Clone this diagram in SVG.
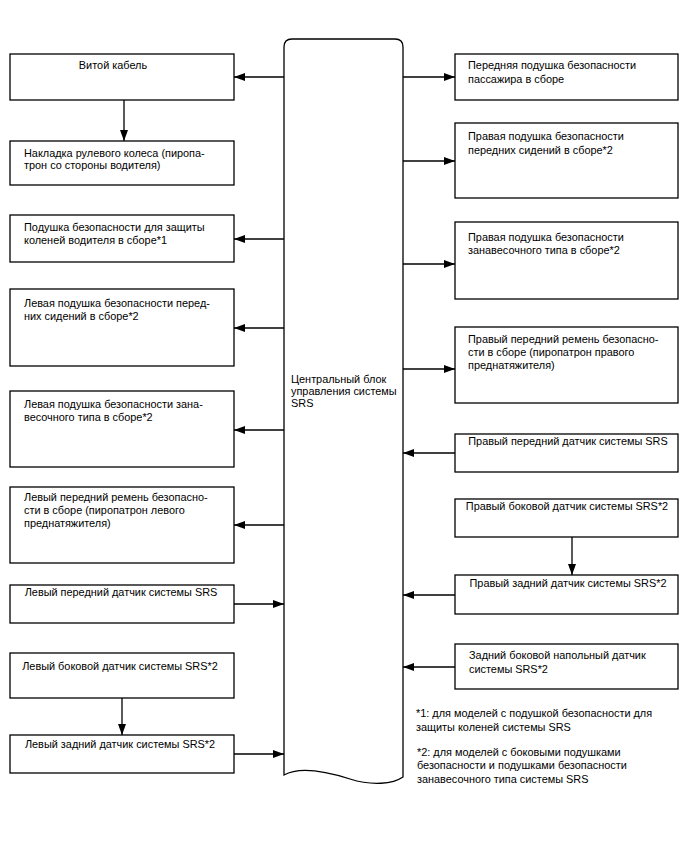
<svg xmlns="http://www.w3.org/2000/svg" width="688" height="852" viewBox="0 0 688 852">
<style>
.box{fill:#fff;stroke:#000;stroke-width:1.3}
.ln{fill:none;stroke:#000;stroke-width:1.3}
text{font-family:"Liberation Sans",Arial,sans-serif;font-size:10.9px;fill:#000}
.c{text-anchor:middle}
</style>
<defs>
<marker id="ah" markerUnits="userSpaceOnUse" markerWidth="12" markerHeight="10" refX="11" refY="4" orient="auto">
<path d="M0,0 L11,4 L0,8 z" fill="#000"/>
</marker>
</defs>
<rect width="688" height="852" fill="#fff"/>

<g id="connectors">
<line class="ln" x1="284" y1="77" x2="234" y2="77" marker-end="url(#ah)"/>
<line class="ln" x1="124" y1="100" x2="124" y2="141" marker-end="url(#ah)"/>
<line class="ln" x1="284" y1="239" x2="234" y2="239" marker-end="url(#ah)"/>
<line class="ln" x1="284" y1="328" x2="234" y2="328" marker-end="url(#ah)"/>
<line class="ln" x1="284" y1="430" x2="234" y2="430" marker-end="url(#ah)"/>
<line class="ln" x1="284" y1="525" x2="234" y2="525" marker-end="url(#ah)"/>
<line class="ln" x1="234" y1="604" x2="284" y2="604" marker-end="url(#ah)"/>
<line class="ln" x1="122" y1="698" x2="122" y2="735" marker-end="url(#ah)"/>
<line class="ln" x1="234" y1="754" x2="284" y2="754" marker-end="url(#ah)"/>
<line class="ln" x1="403" y1="77" x2="455" y2="77" marker-end="url(#ah)"/>
<line class="ln" x1="403" y1="161" x2="455" y2="161" marker-end="url(#ah)"/>
<line class="ln" x1="403" y1="264" x2="455" y2="264" marker-end="url(#ah)"/>
<line class="ln" x1="403" y1="369" x2="455" y2="369" marker-end="url(#ah)"/>
<line class="ln" x1="455" y1="453" x2="403" y2="453" marker-end="url(#ah)"/>
<line class="ln" x1="572" y1="537" x2="572" y2="575" marker-end="url(#ah)"/>
<line class="ln" x1="455" y1="595" x2="403" y2="595" marker-end="url(#ah)"/>
<line class="ln" x1="455" y1="667" x2="403" y2="667" marker-end="url(#ah)"/>
</g>

<g id="ecu">
<path class="box" d="M284,775 L284,47 Q284,39 292,39 L395,39 Q403,39 403,47 L403,777 C393,784 372,786 350,779 C325,771 300,766 284,775 Z"/>
<text x="291" y="383">Центральный блок</text>
<text x="291" y="395">управления системы</text>
<text x="291" y="407">SRS</text>
</g>

<g id="n1"><rect class="box" x="10" y="54" width="224" height="46"/><text class="c" x="113" y="69">Витой кабель</text></g>
<g id="n2"><rect class="box" x="10" y="141" width="224" height="44"/><text x="24" y="157">Накладка рулевого колеса (пиропа-</text><text x="24" y="169">трон со стороны водителя)</text></g>
<g id="n3"><rect class="box" x="10" y="215" width="224" height="47"/><text x="24" y="231">Подушка безопасности для защиты</text><text x="24" y="244">коленей водителя в сборе*1</text></g>
<g id="n4"><rect class="box" x="10" y="289" width="224" height="77"/><text x="24" y="307">Левая подушка безопасности перед-</text><text x="24" y="320">них сидений в сборе*2</text></g>
<g id="n5"><rect class="box" x="10" y="391" width="224" height="76"/><text x="24" y="408">Левая подушка безопасности зана-</text><text x="24" y="421">весочного типа в сборе*2</text></g>
<g id="n6"><rect class="box" x="10" y="487" width="224" height="76"/><text x="24" y="501">Левый передний ремень безопасно-</text><text x="24" y="514">сти в сборе (пиропатрон левого</text><text x="24" y="527">преднатяжителя)</text></g>
<g id="n7"><rect class="box" x="10" y="585" width="224" height="38"/><text class="c" x="121" y="596">Левый передний датчик системы SRS</text></g>
<g id="n8"><rect class="box" x="10" y="653" width="224" height="45"/><text class="c" x="120" y="670">Левый боковой датчик системы SRS*2</text></g>
<g id="n9"><rect class="box" x="10" y="735" width="224" height="38"/><text class="c" x="120" y="748">Левый задний датчик системы SRS*2</text></g>

<g id="r1"><rect class="box" x="455" y="54" width="223" height="46"/><text x="468" y="69">Передняя подушка безопасности</text><text x="468" y="83">пассажира в сборе</text></g>
<g id="r2"><rect class="box" x="455" y="123" width="223" height="75"/><text x="468" y="140">Правая подушка безопасности</text><text x="468" y="154">передних сидений в сборе*2</text></g>
<g id="r3"><rect class="box" x="455" y="222" width="223" height="77"/><text x="468" y="241">Правая подушка безопасности</text><text x="468" y="254">занавесочного типа в сборе*2</text></g>
<g id="r4"><rect class="box" x="455" y="327" width="223" height="76"/><text x="468" y="343">Правый передний ремень безопасно-</text><text x="468" y="356">сти в сборе (пиропатрон правого</text><text x="468" y="369">преднатяжителя)</text></g>
<g id="r5"><rect class="box" x="455" y="434" width="223" height="38"/><text class="c" x="568" y="445">Правый передний датчик системы SRS</text></g>
<g id="r6"><rect class="box" x="455" y="499" width="223" height="38"/><text class="c" x="567" y="510">Правый боковой датчик системы SRS*2</text></g>
<g id="r7"><rect class="box" x="455" y="575" width="223" height="39"/><text class="c" x="568" y="587">Правый задний датчик системы SRS*2</text></g>
<g id="r8"><rect class="box" x="455" y="644" width="223" height="45"/><text x="469" y="659">Задний боковой напольный датчик</text><text x="469" y="673">системы SRS*2</text></g>

<g id="notes">
<text x="416" y="717">*1: для моделей с подушкой безопасности для</text>
<text x="416" y="731">защиты коленей системы SRS</text>
<text x="417" y="756">*2: для моделей с боковыми подушками</text>
<text x="417" y="769">безопасности и подушками безопасности</text>
<text x="417" y="783">занавесочного типа системы SRS</text>
</g>
</svg>
